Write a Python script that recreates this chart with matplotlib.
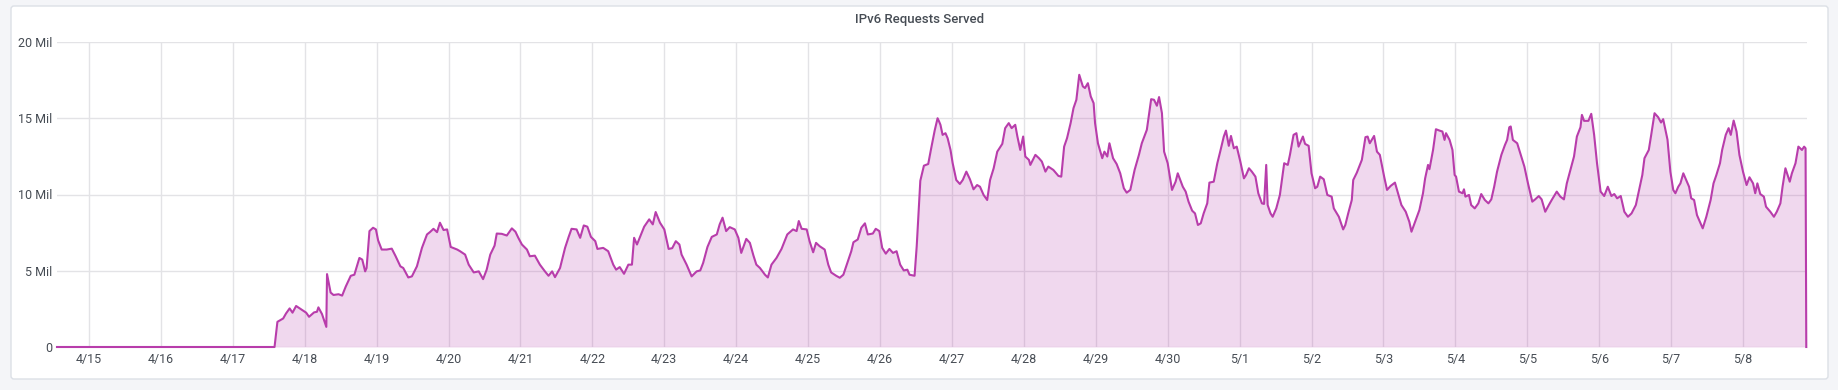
import matplotlib.pyplot as plt
from matplotlib.patches import FancyBboxPatch
from matplotlib.transforms import IdentityTransform

plt.rcParams['font.family'] = ['Roboto', 'DejaVu Sans']

#-- data: days since 4/15 00:00, requests in millions
days = [
    -0.445, 2.58, 2.62, 2.70, 2.74, 2.79, 2.83, 2.88, 2.95, 3.02, 3.06, 3.13, 3.17, 3.19, 3.24,
    3.30, 3.31, 3.36, 3.40, 3.47, 3.52, 3.57, 3.64, 3.69, 3.76, 3.80, 3.84, 3.86, 3.90, 3.95,
    3.99, 4.02, 4.07, 4.14, 4.21, 4.26, 4.33, 4.37, 4.44, 4.49, 4.56, 4.63, 4.70, 4.74, 4.79,
    4.84, 4.88, 4.93, 4.98, 5.03, 5.12, 5.16, 5.23, 5.28, 5.35, 5.42, 5.48, 5.53, 5.58, 5.64,
    5.67, 5.74, 5.81, 5.88, 5.93, 5.97, 6.02, 6.09, 6.13, 6.20, 6.27, 6.34, 6.39, 6.44, 6.48,
    6.55, 6.62, 6.67, 6.71, 6.78, 6.83, 6.88, 6.93, 6.98, 7.04, 7.07, 7.15, 7.22, 7.29, 7.33,
    7.38, 7.44, 7.50, 7.55, 7.58, 7.62, 7.67, 7.72, 7.79, 7.84, 7.88, 7.94, 8.00, 8.06, 8.11,
    8.16, 8.21, 8.24, 8.31, 8.38, 8.45, 8.50, 8.54, 8.60, 8.66, 8.73, 8.77, 8.81, 8.86, 8.91,
    8.98, 9.03, 9.07, 9.14, 9.19, 9.24, 9.28, 9.33, 9.40, 9.44, 9.49, 9.56, 9.63, 9.71, 9.79,
    9.84, 9.87, 9.91, 9.98, 10.02, 10.07, 10.11, 10.16, 10.23, 10.28, 10.32, 10.39, 10.44, 10.49, 10.56,
    10.60, 10.63, 10.69, 10.74, 10.79, 10.83, 10.90, 10.94, 10.99, 11.03, 11.08, 11.13, 11.18, 11.23, 11.28,
    11.33, 11.38, 11.41, 11.48, 11.51, 11.56, 11.61, 11.67, 11.71, 11.76, 11.80, 11.82, 11.84, 11.87, 11.91,
    11.94, 11.98, 12.01, 12.06, 12.11, 12.15, 12.20, 12.25, 12.30, 12.35, 12.39, 12.44, 12.49, 12.53, 12.58,
    12.63, 12.70, 12.74, 12.79, 12.83, 12.88, 12.91, 12.95, 12.99, 13.02, 13.07, 13.09, 13.16, 13.21, 13.25,
    13.30, 13.34, 13.41, 13.48, 13.52, 13.56, 13.60, 13.65, 13.69, 13.73, 13.77, 13.82, 13.85, 13.89, 13.93,
    13.97, 13.99, 14.03, 14.09, 14.12, 14.16, 14.19, 14.24, 14.29, 14.34, 14.39, 14.43, 14.48, 14.54, 14.60,
    14.64, 14.71, 14.77, 14.81, 14.85, 14.88, 14.92, 14.95, 15.00, 15.06, 15.11, 15.14, 15.21, 15.25, 15.29,
    15.34, 15.38, 15.42, 15.46, 15.50, 15.55, 15.58, 15.64, 15.69, 15.73, 15.78, 15.81, 15.85, 15.88, 15.92,
    15.96, 16.01, 16.06, 16.09, 16.13, 16.17, 16.22, 16.26, 16.31, 16.34, 16.37, 16.39, 16.43, 16.46, 16.51,
    16.56, 16.62, 16.67, 16.70, 16.75, 16.79, 16.82, 16.88, 16.91, 16.96, 17.00, 17.05, 17.08, 17.12, 17.17,
    17.22, 17.28, 17.31, 17.38, 17.44, 17.47, 17.51, 17.56, 17.58, 17.63, 17.70, 17.75, 17.78, 17.81, 17.87,
    17.91, 17.95, 18.01, 18.05, 18.10, 18.16, 18.21, 18.25, 18.31, 18.36, 18.39, 18.44, 18.50, 18.55, 18.58,
    18.62, 18.64, 18.69, 18.73, 18.78, 18.82, 18.85, 18.87, 18.92, 18.96, 18.99, 19.01, 19.05, 19.10, 19.12,
    19.14, 19.19, 19.22, 19.27, 19.32, 19.36, 19.41, 19.46, 19.50, 19.54, 19.58, 19.64, 19.69, 19.72, 19.75,
    19.77, 19.80, 19.86, 19.91, 19.96, 20.01, 20.07, 20.11, 20.16, 20.20, 20.25, 20.30, 20.34, 20.41, 20.46,
    20.51, 20.55, 20.60, 20.65, 20.69, 20.74, 20.76, 20.79, 20.85, 20.89, 20.93, 20.97, 21.02, 21.07, 21.12,
    21.17, 21.21, 21.25, 21.30, 21.35, 21.40, 21.45, 21.51, 21.55, 21.60, 21.63, 21.69, 21.72, 21.77, 21.82,
    21.86, 21.89, 21.95, 21.99, 22.03, 22.06, 22.10, 22.13, 22.17, 22.22, 22.25, 22.28, 22.32, 22.36, 22.41,
    22.44, 22.49, 22.55, 22.59, 22.63, 22.68, 22.71, 22.76, 22.80, 22.83, 22.87, 22.91, 22.95, 23.00, 23.05,
    23.09, 23.14, 23.17, 23.20, 23.24, 23.29, 23.32, 23.38, 23.43, 23.47, 23.52, 23.55, 23.59, 23.65, 23.68,
    23.73, 23.77, 23.82, 23.85, 23.87, 23.88,
]
requests_mil = [
    0, 0, 1.65, 1.87, 2.2, 2.53, 2.25, 2.69, 2.47, 2.25, 1.98, 2.27, 2.31, 2.6, 2.16,
    1.32, 4.78, 3.57, 3.41, 3.46, 3.37, 3.96, 4.67, 4.74, 5.84, 5.73, 4.96, 5.18, 7.6, 7.82,
    7.71, 7.0, 6.39, 6.39, 6.45, 5.99, 5.29, 5.18, 4.56, 4.63, 5.29, 6.5, 7.38, 7.53, 7.75,
    7.53, 8.15, 7.67, 7.71, 6.56, 6.39, 6.28, 6.06, 5.40, 4.89, 4.96, 4.45, 5.07, 6.06, 6.65,
    7.44, 7.42, 7.31, 7.78, 7.56, 7.16, 6.72, 6.39, 5.95, 5.99, 5.40, 4.96, 4.67, 4.96, 4.58,
    5.18, 6.5, 7.22, 7.75, 7.71, 7.16, 7.97, 7.89, 7.22, 6.94, 6.43, 6.5, 6.28, 5.40, 5.07,
    5.24, 4.80, 5.40, 5.40, 7.16, 6.72, 7.31, 7.89, 8.37, 8.04, 8.85, 8.15, 7.71, 6.43, 6.48,
    6.94, 6.72, 6.06, 5.40, 4.63, 4.96, 5.02, 5.51, 6.56, 7.22, 7.38, 8.04, 8.48, 7.60, 7.86,
    7.71, 7.16, 6.17, 7.09, 6.83, 5.99, 5.40, 5.18, 4.74, 4.56, 5.40, 5.84, 6.43, 7.38, 7.71,
    7.60, 8.26, 7.75, 7.71, 6.94, 6.21, 6.83, 6.61, 6.39, 5.40, 4.89, 4.67, 4.54, 4.74, 5.73,
    6.28, 6.87, 7.05, 7.82, 8.11, 7.38, 7.44, 7.75, 7.60, 6.50, 6.12, 6.43, 6.17, 6.28, 5.40,
    5.02, 5.07, 4.74, 4.67, 6.61, 10.90, 11.89, 12.0, 13.0, 14.2, 15.0, 14.8, 14.57, 13.91, 14.02,
    13.69, 12.92, 12.05, 10.95, 10.69, 10.95, 11.50, 11.0, 10.34, 10.62, 10.51, 9.97, 9.64, 10.95, 11.72,
    12.81, 13.32, 14.35, 14.68, 14.35, 14.57, 13.80, 12.92, 13.80, 12.49, 12.27, 11.94, 12.60, 12.38, 12.16,
    11.50, 11.83, 11.61, 11.22, 11.17, 13.14, 13.69, 14.68, 15.66, 16.21, 17.85, 17.09, 16.98, 17.30, 16.43,
    15.99, 14.68, 13.36, 12.38, 12.81, 12.49, 13.36, 12.38, 12.0, 11.39, 10.41, 10.12, 10.30, 11.61, 12.60,
    13.36, 14.24, 16.25, 16.21, 15.82, 16.39, 15.33, 12.81, 12.05, 10.30, 10.84, 11.39, 10.51, 10.19, 9.53,
    8.94, 8.76, 8.0, 8.11, 8.76, 9.42, 10.78, 10.84, 12.05, 12.81, 13.80, 14.19, 13.19, 13.84, 13.03,
    13.14, 12.16, 11.06, 11.28, 11.72, 11.50, 11.17, 10.08, 9.42, 9.38, 11.94, 9.31, 8.76, 8.54, 9.09,
    9.97, 12.05, 11.94, 12.60, 13.91, 14.02, 13.14, 13.80, 13.32, 13.19, 11.39, 10.41, 10.51, 11.17, 11.0,
    9.97, 9.86, 9.09, 8.54, 7.71, 8.0, 8.76, 9.64, 10.95, 11.43, 12.27, 13.76, 13.80, 13.36, 13.84,
    12.81, 12.60, 11.17, 10.30, 10.56, 10.78, 9.97, 9.31, 8.87, 8.21, 7.56, 8.21, 8.98, 10.08, 11.06,
    11.94, 11.66, 12.92, 14.28, 14.19, 14.13, 13.58, 14.02, 13.58, 12.92, 11.28, 11.17, 10.19, 10.08, 10.34,
    9.86, 9.97, 9.31, 9.09, 9.42, 10.03, 9.64, 9.42, 9.68, 10.51, 11.50, 12.60, 13.25, 13.58, 14.41,
    14.46, 13.58, 13.36, 12.60, 11.83, 10.73, 9.53, 9.68, 9.90, 9.68, 8.87, 9.31, 9.64, 10.19, 9.86,
    9.68, 10.73, 11.61, 12.49, 13.80, 14.41, 15.22, 14.83, 14.83, 15.29, 13.91, 12.05, 10.19, 9.90, 10.51,
    9.90, 10.03, 9.75, 9.90, 8.87, 8.54, 8.76, 9.31, 10.19, 11.28, 12.38, 12.92, 13.80, 15.33, 15.07,
    14.72, 14.94, 13.6, 11.5, 10.3, 10.08, 10.51, 10.73, 11.39, 10.84, 10.51, 9.75, 9.64, 8.65, 8.11,
    7.78, 8.54, 9.64, 10.73, 11.28, 12.05, 12.92, 13.91, 14.35, 13.91, 14.85, 14.13, 12.60, 11.50, 10.62,
    11.13, 10.73, 10.08, 10.73, 10.03, 9.86, 9.20, 8.87, 8.54, 8.87, 9.42, 10.51, 11.72, 10.84, 11.39,
    12.05, 13.14, 12.92, 13.14, 13.03, 0,
]

day_labels = ['4/15', '4/16', '4/17', '4/18', '4/19', '4/20', '4/21', '4/22', '4/23', '4/24',
              '4/25', '4/26', '4/27', '4/28', '4/29', '4/30', '5/1', '5/2', '5/3', '5/4',
              '5/5', '5/6', '5/7', '5/8']
y_ticks = [0, 5, 10, 15, 20]
y_labels = ['0', '5 Mil', '10 Mil', '15 Mil', '20 Mil']

W, H = 1838, 390
line_color = '#b83dab'
text_color = '#464c54'

fig = plt.figure(figsize=(W / 100, H / 100), dpi=100, facecolor='#f4f5f8')

# white panel card, kept behind the axes
card = FancyBboxPatch((11, H - 379), 1828 - 11, 379 - 6,
                      boxstyle='round,pad=0,rounding_size=3',
                      transform=IdentityTransform(), fc='white', ec='#dce0e6', lw=1,
                      zorder=-10)
fig.patches.append(card)

fig.text(920 / W, 1 - 20 / H, 'IPv6 Requests Served', ha='center', va='center',
         fontsize=9.5, color=text_color, fontweight='medium')

ax = fig.add_axes([57 / W, 1 - 347 / H, (1807 - 57) / W, 305 / H])
ax.set_facecolor('none')
ax.fill_between(days, requests_mil, color=line_color, alpha=0.2, lw=0)
ax.plot(days, requests_mil, color=line_color, lw=1.5, clip_on=False, solid_joinstyle='round')

ax.set_xlim(-0.445, 23.89)
ax.set_ylim(0, 20)
ax.set_xticks(range(len(day_labels)), day_labels)
ax.set_yticks(y_ticks, y_labels)
ax.set_axisbelow(True)
ax.grid(color='#e3e3e6', lw=1)
for s in ax.spines.values():
    s.set_visible(False)
ax.tick_params(length=0, labelsize=9, labelcolor=text_color)
ax.tick_params(axis='x', pad=4.5)
ax.tick_params(axis='y', pad=3.5)

fig.savefig('out.png', dpi=100, facecolor=fig.get_facecolor())
